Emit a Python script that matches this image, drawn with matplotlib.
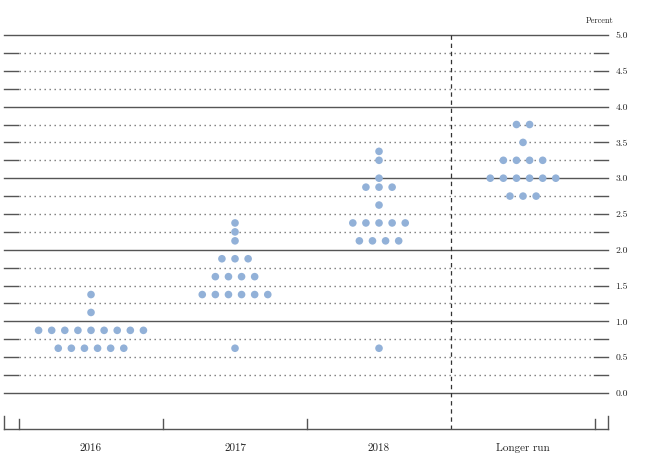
import matplotlib.pyplot as plt
import numpy as np

# dot plot: each entry is (rate level, number of participants)
groups = ['2016', '2017', '2018', 'Longer run']
dots_2016 = [(0.625, 6), (0.875, 9), (1.125, 1), (1.375, 1)]
dots_2017 = [(0.625, 1), (1.375, 6), (1.625, 4), (1.875, 3), (2.125, 1), (2.25, 1), (2.375, 1)]
dots_2018 = [(0.625, 1), (2.125, 4), (2.375, 5), (2.625, 1), (2.875, 3), (3.0, 1), (3.25, 1), (3.375, 1)]
dots_longer = [(2.75, 3), (3.0, 6), (3.25, 4), (3.5, 1), (3.75, 2)]
all_dots = [dots_2016, dots_2017, dots_2018, dots_longer]

levels = np.arange(0, 5.01, 0.25)
label_levels = np.arange(0, 5.01, 0.5)

plt.rcParams['font.family'] = ['cmr10', 'DejaVu Serif']
plt.rcParams['axes.unicode_minus'] = False

fig = plt.figure(figsize=(6.45, 4.6), dpi=100)
ax = fig.add_axes([0, 0, 1, 1])
ax.set_xlim(-0.132, 4.347)
ax.set_ylim(-0.922, 5.503)
ax.axis('off')

left, right = -0.104, 4.09
tick_len = 0.095
gray = '#555555'

for lv in levels:
    if abs(lv - round(lv)) < 1e-9:
        ax.plot([left, right], [lv, lv], color=gray, lw=1.0, zorder=1)
    else:
        ax.plot([left + tick_len + 0.01, right - tick_len], [lv, lv], color='#777777',
                lw=1.0, linestyle=(0, (1, 2.6)), zorder=1)
        ax.plot([left, left + tick_len], [lv, lv], color=gray, lw=1.0, zorder=1)
        ax.plot([right - tick_len, right], [lv, lv], color=gray, lw=1.0, zorder=1)

for lv in label_levels:
    ax.text(right + 0.05, lv, f'{lv:.1f}', fontsize=7, va='center', ha='left', color='#222222')
ax.text(4.03, 5.15, 'Percent', fontsize=6, ha='center', va='bottom', color='#222222')

# dots
spacing = 0.091
for gi, rows in enumerate(all_dots):
    center = gi + 0.5
    for lv, n in rows:
        xs = center + (np.arange(n) - (n - 1) / 2) * spacing
        ax.scatter(xs, np.full(n, lv), s=30, color='#92b1d8', edgecolor='none', zorder=3)

# longer run separator
ax.plot([3, 3], [5.0, -0.503], color='#333333', lw=0.9, linestyle=(0, (3.5, 3)), zorder=2)

# bottom bracket
base = -0.503
ax.plot([left, right], [base, base], color=gray, lw=1.0)
for tx in [left, right]:
    ax.plot([tx, tx], [base, -0.321], color=gray, lw=1.0)
for tx in [0, 1, 2, 4]:
    ax.plot([tx, tx], [base, -0.363], color=gray, lw=1.0)

for gi, name in enumerate(groups):
    ax.text(gi + 0.5, -0.754, name, fontsize=8, ha='center', va='center', color='#222222')

fig.savefig('out.png', dpi=100)
